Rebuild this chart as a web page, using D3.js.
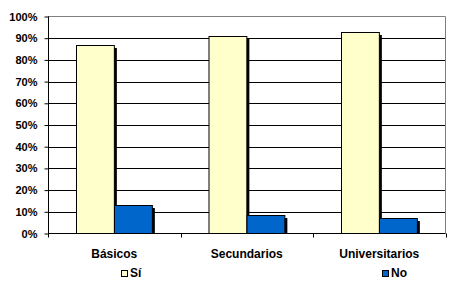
<!DOCTYPE html>
<html>
<head>
<meta charset="utf-8">
<script src="https://cdn.jsdelivr.net/npm/d3@7"></script>
<style>
    body { margin: 0; background: #fff; }
    text { font-family: "Liberation Sans", Arial, sans-serif; font-weight: bold; fill: #000; }
</style>
</head>
<body>
<div id="chart"></div>
<script>
const categories = ["Básicos", "Secundarios", "Universitarios"];
const seriesNames = ["Sí", "No"];
const siValues = [87, 91, 93];
const noValues = [13, 8.5, 7];
const yTicks = [0, 10, 20, 30, 40, 50, 60, 70, 80, 90, 100];
const colors = { "Sí": "#FFFFCC", "No": "#0066CC" };

document.addEventListener("DOMContentLoaded", function() {
    const width = 450;
    const height = 288;
    const left = 48, right = 445.5, top = 16.5, bottom = 233.5;

    const svg = d3.select("#chart")
        .append("svg")
        .attr("width", width)
        .attr("height", height);

    const x = d3.scaleBand().domain(categories).range([left, right]).padding(0);
    const xs = d3.scaleBand().domain(seriesNames).range([0, x.bandwidth()])
        .paddingInner(0).paddingOuter(0.75);
    const y = d3.scaleLinear().domain([0, 100]).range([bottom, top]);

    const data = categories.map((c, i) => ({ cat: c, values: [
        { name: "Sí", value: siValues[i] },
        { name: "No", value: noValues[i] }
    ]}));

    // grid lines
    svg.append("g")
        .selectAll("line")
        .data(yTicks.filter(t => t > 0 && t < 100))
        .join("line")
        .attr("x1", left).attr("x2", right)
        .attr("y1", d => Math.round(y(d)) + 0.5)
        .attr("y2", d => Math.round(y(d)) + 0.5)
        .attr("stroke", "#000");

    // plot border (top and right grey)
    svg.append("path")
        .attr("d", `M${left},${top}H${right}V${bottom}`)
        .attr("fill", "none")
        .attr("stroke", "#808080");

    // bars
    const groups = svg.append("g")
        .selectAll("g")
        .data(data)
        .join("g")
        .attr("transform", d => `translate(${x(d.cat)},0)`);

    groups.selectAll("rect.shadow")
        .data(d => d.values)
        .join("rect")
        .attr("class", "shadow")
        .attr("x", d => Math.round(xs(d.name)) + 3)
        .attr("y", d => Math.round(y(d.value)) + 3)
        .attr("width", xs.bandwidth())
        .attr("height", d => bottom - Math.round(y(d.value)) - 3)
        .attr("fill", "#000");

    groups.selectAll("rect.bar")
        .data(d => d.values)
        .join("rect")
        .attr("class", "bar")
        .attr("x", d => Math.round(xs(d.name)) + 0.5)
        .attr("y", d => Math.round(y(d.value)) + 0.5)
        .attr("width", xs.bandwidth())
        .attr("height", d => bottom - Math.round(y(d.value)) - 0.5)
        .attr("fill", d => colors[d.name])
        .attr("stroke", "#000");

    // y axis
    const yAxis = svg.append("g")
        .attr("transform", `translate(${left + 0.5},0)`)
        .call(d3.axisLeft(y).tickValues(yTicks).tickFormat(d => d + "%").tickSize(4).tickPadding(7));
    yAxis.select(".domain").attr("d", `M0,${top}V${bottom + 4}`).attr("stroke", "#000");
    yAxis.selectAll(".tick line").attr("stroke", "#000");
    yAxis.selectAll("text").style("font-size", "11px").attr("fill", "#000");

    // x axis
    const xAxis = svg.append("g")
        .attr("transform", `translate(0,${bottom})`);
    xAxis.append("line")
        .attr("x1", left).attr("x2", right)
        .attr("stroke", "#000");
    xAxis.selectAll("line.tick")
        .data(categories)
        .join("line")
        .attr("class", "tick")
        .attr("x1", d => Math.round(x(d) + x.bandwidth()) + 0.5)
        .attr("x2", d => Math.round(x(d) + x.bandwidth()) + 0.5)
        .attr("y1", 0).attr("y2", 4)
        .attr("stroke", "#000");
    xAxis.selectAll("text")
        .data(categories)
        .join("text")
        .attr("x", d => x(d) + x.bandwidth() / 2)
        .attr("y", 24)
        .attr("text-anchor", "middle")
        .style("font-size", "12px")
        .text(d => d);

    // legend
    const legendX = [121, 382];
    const legend = svg.append("g")
        .selectAll("g")
        .data(seriesNames)
        .join("g")
        .attr("transform", (d, i) => `translate(${legendX[i]},270)`);
    legend.append("rect")
        .attr("x", 0.5).attr("y", 0.5)
        .attr("width", 6).attr("height", 6)
        .attr("fill", d => colors[d])
        .attr("stroke", "#000");
    legend.append("text")
        .attr("x", 9)
        .attr("y", 7)
        .style("font-size", "12px")
        .text(d => d);
});
</script>
</body>
</html>
